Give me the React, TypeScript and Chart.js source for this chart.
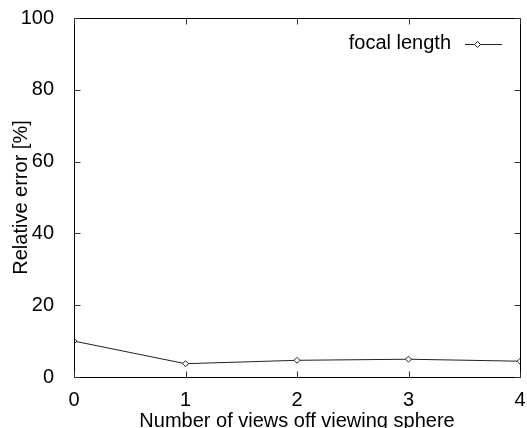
import React, { useEffect, useRef } from "react";
import { Chart, registerables } from "chart.js";

Chart.register(...registerables);

const xValues = [0, 1, 2, 3, 4];
const focalLength = [10.0, 3.7, 4.65, 4.95, 4.4];
const seriesLabel = "focal length";
const yTicks = [0, 20, 40, 60, 80, 100];
const xTitle = "Number of views off viewing sphere";
const yTitle = "Relative error [%]";

const FONT = "'Liberation Sans', Arial, Helvetica, sans-serif";

const framePlugin = {
  id: "gnuplotFrame",
  afterDraw(chart: any) {
    const { ctx, chartArea: a, scales } = chart;
    const L = Math.round(a.left) + 0.5;
    const R = Math.round(a.right) + 0.5;
    const T = Math.round(a.top) + 0.5;
    const B = Math.round(a.bottom) + 0.5;
    ctx.save();
    ctx.strokeStyle = "#000";
    ctx.lineWidth = 1;
    ctx.beginPath();
    ctx.rect(L, T, R - L, B - T);
    ctx.stroke();
    const tl = 6;
    ctx.strokeStyle = "#333";
    ctx.beginPath();
    scales.y.ticks.forEach((t: any) => {
      const y = Math.round(scales.y.getPixelForValue(t.value)) + 0.5;
      ctx.moveTo(L, y);
      ctx.lineTo(L + tl, y);
      ctx.moveTo(R, y);
      ctx.lineTo(R - tl, y);
    });
    scales.x.ticks.forEach((t: any) => {
      const x = Math.round(scales.x.getPixelForValue(t.value)) + 0.5;
      ctx.moveTo(x, B);
      ctx.lineTo(x, B - tl);
      ctx.moveTo(x, T);
      ctx.lineTo(x, T + tl);
    });
    ctx.stroke();

    // legend (gnuplot style: text then sample on the right)
    const ds = chart.data.datasets[0];
    const ly = 44.5;
    ctx.fillStyle = "#000";
    ctx.font = `20px ${FONT}`;
    ctx.textAlign = "right";
    ctx.textBaseline = "middle";
    ctx.fillText(ds.label, 451, ly - 1);
    ctx.strokeStyle = "#222";
    ctx.beginPath();
    ctx.moveTo(465, ly);
    ctx.lineTo(502, ly);
    ctx.stroke();
    const mx = 477.5;
    const r = 3;
    ctx.beginPath();
    ctx.moveTo(mx, ly - r);
    ctx.lineTo(mx + r, ly);
    ctx.lineTo(mx, ly + r);
    ctx.lineTo(mx - r, ly);
    ctx.closePath();
    ctx.fillStyle = "#fff";
    ctx.fill();
    ctx.stroke();
    ctx.restore();
  },
};

export default function App() {
  const ref = useRef<HTMLCanvasElement | null>(null);
  useEffect(() => {
    if (!ref.current) return;
    const chart = new Chart(ref.current, {
      type: "line",
      data: {
        datasets: [
          {
            label: seriesLabel,
            data: xValues.map((x, i) => ({ x, y: focalLength[i] })),
            borderColor: "#222",
            borderWidth: 1,
            pointStyle: "rectRot",
            pointRadius: 3,
            pointBackgroundColor: "#fff",
            pointBorderColor: "#222",
            pointBorderWidth: 1,
            tension: 0,
          },
        ],
      },
      options: {
        animation: false,
        responsive: false,
        maintainAspectRatio: false,
        layout: { padding: { left: 0, top: 18, right: 7, bottom: 0 } },
        plugins: { legend: { display: false }, tooltip: { enabled: false } },
        scales: {
          x: {
            type: "linear",
            min: 0,
            max: 4,
            afterBuildTicks: (s: any) => {
              s.ticks = xValues.map((v) => ({ value: v }));
            },
            afterFit: (s: any) => {
              s.height = 51;
              s.paddingLeft = 0;
              s.paddingRight = 0;
              s.paddingTop = 0;
              s.paddingBottom = 0;
            },
            grid: { display: false },
            border: { display: false },
            ticks: {
              color: "#000",
              font: { family: FONT, size: 20 },
              padding: 3,
              maxRotation: 0,
            },
            title: {
              display: true,
              text: xTitle,
              color: "#000",
              font: { family: FONT, size: 20 },
              padding: { top: 0, bottom: -5 },
            },
          },
          y: {
            type: "linear",
            min: 0,
            max: 100,
            afterBuildTicks: (s: any) => {
              s.ticks = yTicks.map((v) => ({ value: v }));
            },
            afterFit: (s: any) => {
              s.width = 74;
              s.paddingLeft = 0;
              s.paddingRight = 0;
              s.paddingTop = 0;
              s.paddingBottom = 0;
            },
            grid: { display: false },
            border: { display: false },
            ticks: {
              color: "#000",
              font: { family: FONT, size: 20 },
              padding: 12,
            },
            title: {
              display: true,
              text: yTitle,
              color: "#000",
              font: { family: FONT, size: 20 },
              padding: { top: 9, bottom: 0 },
            },
          },
        },
      },
      plugins: [framePlugin],
    });
    return () => chart.destroy();
  }, []);
  return (
    <div style={{ position: "fixed", left: 0, top: 0, width: 527, height: 428, background: "#fff" }}>
      <canvas ref={ref} width={527} height={428} style={{ display: "block", width: 527, height: 428 }} />
    </div>
  );
}
